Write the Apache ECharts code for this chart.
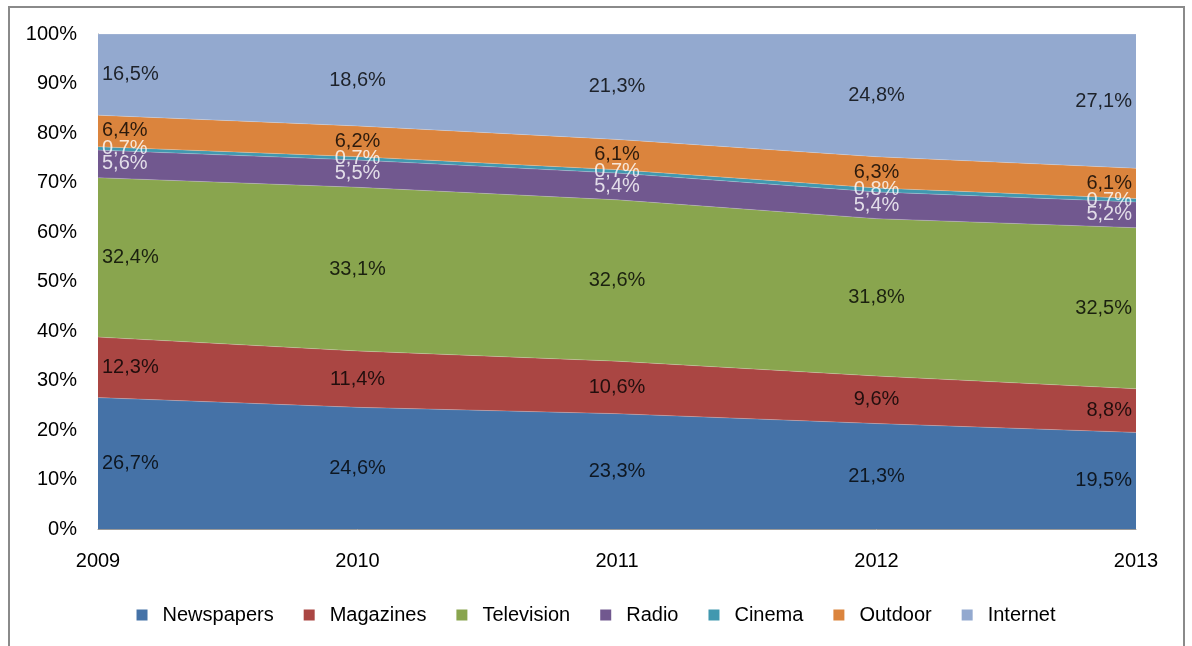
<!DOCTYPE html>
<html>
<head>
<meta charset="utf-8">
<script src="https://cdn.jsdelivr.net/npm/echarts@6/dist/echarts.min.js"></script>
<style>
  html, body { margin: 0; padding: 0; background: #fff; }
  #chart { width: 1192px; height: 646px; }
</style>
</head>
<body>
<div id="chart"></div>
<script>
// Данные
const years = ['2009', '2010', '2011', '2012', '2013']
const newspapers = [26.7, 24.6, 23.3, 21.3, 19.5]
const magazines = [12.3, 11.4, 10.6, 9.6, 8.8]
const television = [32.4, 33.1, 32.6, 31.8, 32.5]
const radio = [5.6, 5.5, 5.4, 5.4, 5.2]
const cinema = [0.7, 0.7, 0.7, 0.8, 0.7]
const outdoor = [6.4, 6.2, 6.1, 6.3, 6.1]
const internet = [16.5, 18.6, 21.3, 24.8, 27.1]
const yTicks = [0, 10, 20, 30, 40, 50, 60, 70, 80, 90, 100]

const seriesDefs = [
  { name: 'Newspapers', data: newspapers, color: '#4572A7', labelColor: '#000' },
  { name: 'Magazines', data: magazines, color: '#AA4643', labelColor: '#000' },
  { name: 'Television', data: television, color: '#89A54E', labelColor: '#000' },
  { name: 'Radio', data: radio, color: '#71588F', labelColor: '#fff' },
  { name: 'Cinema', data: cinema, color: '#4198AF', labelColor: '#fff' },
  { name: 'Outdoor', data: outdoor, color: '#DB843D', labelColor: '#000' },
  { name: 'Internet', data: internet, color: '#93A9CF', labelColor: '#000' }
]

const font = "'Liberation Sans', Arial, sans-serif"

// 100% нормировка по каждому году
const totals = years.map((_, i) => seriesDefs.reduce((s, d) => s + d.data[i], 0))
const pct = (v, i) => v / totals[i] * 100
const fmt = (v) => v.toFixed(1).replace('.', ',') + '%'

const areaSeries = seriesDefs.map((d) => ({
  name: d.name,
  type: 'line',
  stack: 'total',
  data: d.data.map((v, i) => pct(v, i)),
  symbol: 'none',
  lineStyle: { width: 0.6, color: 'rgba(255,255,255,0.35)' },
  areaStyle: { color: d.color, opacity: 1 },
  itemStyle: { color: d.color },
  emphasis: { disabled: true },
  z: 2
}))

// подписи — в середине каждой полосы
const labelSeries = seriesDefs.map((d, k) => ({
  name: d.name + '_label',
  type: 'scatter',
  symbolSize: 0,
  silent: true,
  z: 5,
  data: d.data.map((v, i) => {
    let below = 0
    for (let j = 0; j < k; j++) below += pct(seriesDefs[j].data[i], i)
    const pos = i === 0 ? 'right' : (i === years.length - 1 ? 'left' : 'inside')
    return {
      value: [years[i], below + pct(v, i) / 2],
      raw: v,
      label: { position: pos, distance: 4 }
    }
  }),
  label: {
    show: true,
    color: d.labelColor,
    fontFamily: font,
    fontSize: 20,
    formatter: (p) => fmt(p.data.raw)
  }
}))

const chart = echarts.init(document.getElementById('chart'))
chart.setOption({
  animation: false,
  backgroundColor: '#fff',
  graphic: [{
    type: 'rect',
    shape: { x: 9, y: 7, width: 1175, height: 660 },
    style: { fill: 'none', stroke: '#8a8a8a', lineWidth: 2 },
    silent: true
  }],
  grid: { left: 98, right: 56, top: 34, bottom: 117 },
  legend: {
    data: seriesDefs.map(d => d.name),
    top: 600,
    left: 'center',
    icon: 'rect',
    itemWidth: 11,
    itemHeight: 11,
    itemGap: 30,
    textStyle: { fontFamily: font, fontSize: 20, color: '#000', padding: [0, 0, 0, 10] }
  },
  xAxis: {
    type: 'category',
    data: years,
    boundaryGap: false,
    axisLine: { show: true, lineStyle: { color: '#999' } },
    axisTick: { show: false },
    axisLabel: { color: '#000', fontFamily: font, fontSize: 20, margin: 22 }
  },
  yAxis: {
    type: 'value',
    min: yTicks[0],
    max: yTicks[yTicks.length - 1],
    interval: 10,
    axisLine: { show: true, lineStyle: { color: '#999' } },
    axisTick: { show: false },
    splitLine: { show: false },
    axisLabel: { color: '#000', fontFamily: font, fontSize: 20, margin: 21, formatter: '{value}%' }
  },
  series: [...areaSeries, ...labelSeries]
})
</script>
</body>
</html>
